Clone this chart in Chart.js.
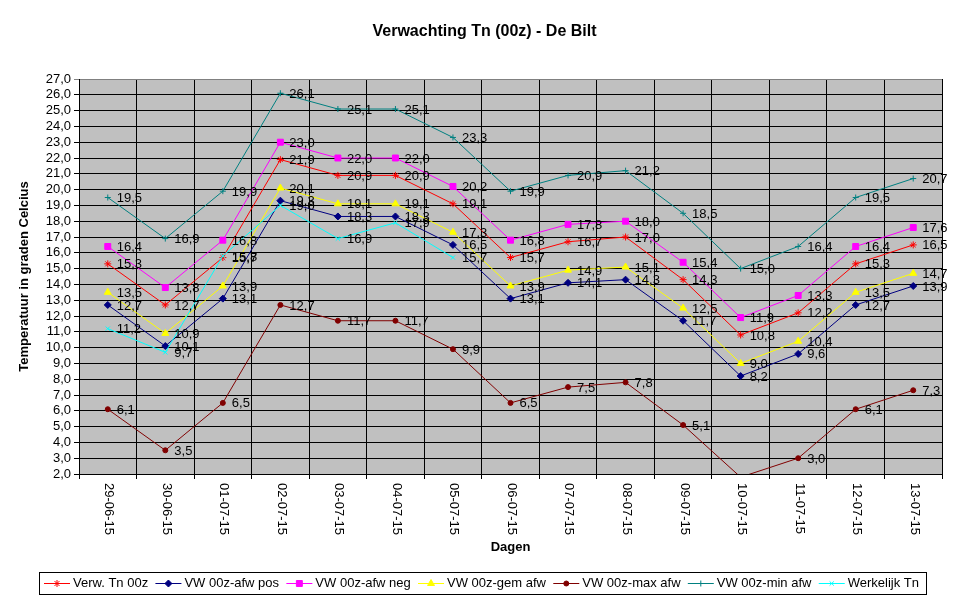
<!DOCTYPE html>
<html>
<head>
<meta charset="utf-8">
<title>Verwachting Tn (00z) - De Bilt</title>
<script src="https://cdn.jsdelivr.net/npm/chart.js@4.4.1/dist/chart.umd.min.js"></script>
<style>
  html, body { margin: 0; padding: 0; background: #fff; }
  #wrap { width: 969px; height: 602px; position: relative; }
</style>
</head>
<body>
<div id="wrap"><canvas id="chart"></canvas></div>
<script>
const dates = ["29-06-15", "30-06-15", "01-07-15", "02-07-15", "03-07-15", "04-07-15", "05-07-15",
  "06-07-15", "07-07-15", "08-07-15", "09-07-15", "10-07-15", "11-07-15", "12-07-15", "13-07-15"];

const verwTn  = [15.3, 12.7, 15.7, 21.9, 20.9, 20.9, 19.1, 15.7, 16.7, 17.0, 14.3, 10.8, 12.2, 15.3, 16.5];
const afwPos  = [12.7, 10.1, 13.1, 19.3, 18.3, 18.3, 16.5, 13.1, 14.1, 14.3, 11.7, 8.2, 9.6, 12.7, 13.9];
const afwNeg  = [16.4, 13.8, 16.8, 23.0, 22.0, 22.0, 20.2, 16.8, 17.8, 18.0, 15.4, 11.9, 13.3, 16.4, 17.6];
const gemAfw  = [13.5, 10.9, 13.9, 20.1, 19.1, 19.1, 17.3, 13.9, 14.9, 15.1, 12.5, 9.0, 10.4, 13.5, 14.7];
const maxAfw  = [6.1, 3.5, 6.5, 12.7, 11.7, 11.7, 9.9, 6.5, 7.5, 7.8, 5.1, 1.8, 3.0, 6.1, 7.3];
const minAfw  = [19.5, 16.9, 19.9, 26.1, 25.1, 25.1, 23.3, 19.9, 20.9, 21.2, 18.5, 15.0, 16.4, 19.5, 20.7];
const werkTn  = [11.2, 9.7, 15.8, 19.0, 16.9, 17.9, 15.7, null, null, null, null, null, null, null, null];

const yMin = 2;
const yMax = 27;

const FONT = '"Liberation Sans", Arial, sans-serif';
Chart.defaults.font.family = FONT;
Chart.defaults.font.size = 13;
Chart.defaults.color = "#000";

const fmt = v => v.toFixed(1).replace(".", ",");

function series(label, data, color, style, radius, i) {
  return {
    label: label,
    data: data,
    borderColor: color,
    backgroundColor: color,
    borderWidth: 1,
    pointStyle: style,
    pointRadius: radius,
    pointHoverRadius: radius,
    pointBorderWidth: 1,
    pointBorderColor: color,
    pointBackgroundColor: color,
    tension: 0,
    fill: false,
    order: 7 - i
  };
}

const datasets = [
  series("Verw. Tn 00z", verwTn, "#ff0000", "star", 3.5, 0),
  series("VW 00z-afw pos", afwPos, "#000080", "rectRot", 3.5, 1),
  series("VW 00z-afw neg", afwNeg, "#ff00ff", "rect", 4.2, 2),
  series("VW 00z-gem afw", gemAfw, "#ffff00", "triangle", 4, 3),
  series("VW 00z-max afw", maxAfw, "#800000", "circle", 2.5, 4),
  series("VW 00z-min afw", minAfw, "#008080", "cross", 3, 5),
  series("Werkelijk Tn", werkTn, "#00ffff", "crossRot", 3, 6)
];

// grey plot area with grey top/right border
const plotBg = {
  id: "plotBg",
  beforeDraw(chart) {
    const { ctx, chartArea: a } = chart;
    ctx.save();
    ctx.fillStyle = "#c0c0c0";
    ctx.fillRect(a.left, a.top, a.right - a.left, a.bottom - a.top);
    ctx.restore();
  }
};

// value labels right of each point
const valueLabels = {
  id: "valueLabels",
  afterDatasetsDraw(chart) {
    const ctx = chart.ctx;
    ctx.save();
    ctx.font = "13px " + FONT;
    ctx.fillStyle = "#000";
    ctx.textAlign = "left";
    ctx.textBaseline = "middle";
    chart.data.datasets.forEach((ds, i) => {
      const meta = chart.getDatasetMeta(i);
      meta.data.forEach((pt, j) => {
        const v = ds.data[j];
        if (v == null || v < yMin || v > yMax) return;
        ctx.fillText(fmt(v), pt.x + 9, pt.y + 1);
      });
    });
    ctx.restore();
  }
};

// rotated date labels (top to bottom) and legend box
const extras = {
  id: "extras",
  afterDraw(chart) {
    const ctx = chart.ctx;
    const xs = chart.scales.x;
    ctx.save();
    ctx.font = "13px " + FONT;
    ctx.fillStyle = "#000";
    ctx.textAlign = "left";
    ctx.textBaseline = "middle";
    dates.forEach((d, i) => {
      const x = xs.getPixelForTick(i);
      ctx.save();
      ctx.translate(x + 1, xs.top + 9);
      ctx.rotate(Math.PI / 2);
      ctx.fillText(d, 0, 0);
      ctx.restore();
    });

    // legend
    const boxL = 39, boxR = 926, boxT = 572, boxB = 594;
    ctx.strokeStyle = "#000";
    ctx.lineWidth = 1;
    ctx.strokeRect(boxL + 0.5, boxT + 0.5, boxR - boxL, boxB - boxT);
    const cy = 583;
    const lineLen = 26, textGap = 3;
    const widths = datasets.map(ds => ctx.measureText(ds.label).width);
    const startX = 44, endX = 919;
    const used = widths.reduce((s, w) => s + w + lineLen + textGap, 0);
    const gap = (endX - startX - used) / (datasets.length - 1);
    let x = startX;
    datasets.forEach((ds, i) => {
      ctx.strokeStyle = ds.borderColor;
      ctx.fillStyle = ds.borderColor;
      ctx.beginPath();
      ctx.moveTo(x, cy + 0.5);
      ctx.lineTo(x + lineLen, cy + 0.5);
      ctx.stroke();
      Chart.helpers.drawPoint(ctx, {
        pointStyle: ds.pointStyle,
        radius: ds.pointRadius,
        rotation: 0,
        borderWidth: 1
      }, x + lineLen / 2, cy + 0.5);
      ctx.fillStyle = "#000";
      ctx.fillText(ds.label, x + lineLen + textGap, cy);
      x += lineLen + textGap + widths[i] + gap;
    });
    ctx.restore();
  }
};

new Chart(document.getElementById("chart"), {
  type: "line",
  data: { labels: dates, datasets: datasets },
  plugins: [plotBg, valueLabels, extras],
  options: {
    responsive: true,
    maintainAspectRatio: false,
    animation: false,
    events: [],
    layout: { padding: { left: 0, right: 0, top: 0, bottom: 44 } },
    plugins: {
      legend: { display: false },
      tooltip: { enabled: false },
      title: {
        display: true,
        text: "Verwachting Tn (00z) - De Bilt",
        color: "#000",
        font: { size: 16, weight: "bold" },
        padding: { top: 22.4, bottom: 37.4 }
      }
    },
    scales: {
      x: {
        offset: true,
        grid: {
          offset: true,
          color: c => (c.index === dates.length ? "#808080" : "#000"),
          lineWidth: 1,
          tickLength: 5,
          drawTicks: true
        },
        border: { color: "#000", width: 1 },
        ticks: { display: false },
        title: {
          display: true,
          text: "Dagen",
          color: "#000",
          font: { size: 13, weight: "bold" },
          padding: { top: 0, bottom: 3 }
        },
        afterFit(scale) { scale.height = 84; }
      },
      y: {
        min: yMin,
        max: yMax,
        grid: {
          color: c => (c.tick && c.tick.value === yMax ? "#808080" : "#000"),
          lineWidth: 1,
          tickLength: 5
        },
        border: { color: "#000", width: 1 },
        ticks: { stepSize: 1, autoSkip: false, padding: 3, color: "#000", callback: v => fmt(v) },
        title: {
          display: true,
          text: "Temperatuur in graden Celcius",
          color: "#000",
          font: { size: 13, weight: "bold" },
          padding: { top: 17, bottom: 0 }
        },
        afterFit(scale) { scale.width = 79; }
      },
      // empty right axis that only keeps the white margin right of the plot
      yRight: {
        position: "right",
        min: yMin,
        max: yMax,
        grid: { display: false, drawTicks: false },
        border: { display: false },
        ticks: { display: false },
        afterFit(scale) { scale.width = 27; }
      }
    }
  }
});
</script>
</body>
</html>
